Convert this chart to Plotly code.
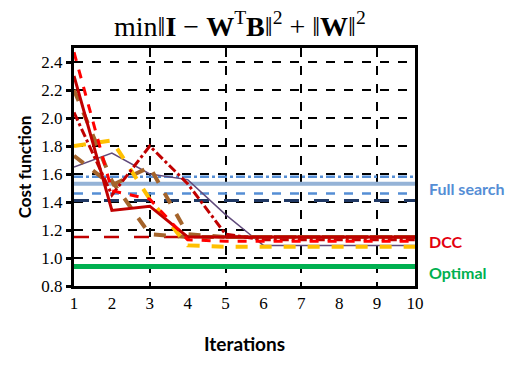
import plotly.graph_objects as go

# iteration index
iterations = list(range(1, 11))

# cost per iteration for each run
red_dash = [2.47, 1.48, 1.42, 1.13, 1.12, 1.12, 1.12, 1.12, 1.12, 1.12]
darkred_solid = [2.30, 1.34, 1.37, 1.15, 1.15, 1.15, 1.15, 1.15, 1.15, 1.15]
darkred_dashdot = [2.04, 1.45, 1.80, 1.53, 1.17, 1.13, 1.13, 1.13, 1.13, 1.13]
brown_a = [2.20, 1.55, 1.17, 1.15, 1.15, 1.15, 1.15, 1.15, 1.15, 1.15]
brown_b = [1.73, 1.52, 1.65, 1.17, 1.15, 1.15, 1.15, 1.15, 1.15, 1.15]
orange = [1.80, 1.84, 1.42, 1.09, 1.08, 1.08, 1.08, 1.08, 1.08, 1.08]
purple = [1.65, 1.75, 1.60, 1.56, 1.31, 1.09, 1.09, 1.09, 1.09, 1.09]

# reference levels
full_search_dashdot = 1.58
full_search_solid = 1.53
full_search_dash = 1.46
full_search_longdash = 1.41
dcc_level = 1.15
optimal_level = 0.94

x_ends = [1, 10]

fig = go.Figure()

def add_level(y, color, width, dash):
    fig.add_trace(go.Scatter(x=x_ends, y=[y, y], mode="lines",
                             line=dict(color=color, width=width, dash=dash),
                             showlegend=False, hoverinfo="skip"))

add_level(full_search_solid, "#95b3d7", 4, "solid")
add_level(full_search_dashdot, "#558ed5", 2.5, "dashdot")
add_level(full_search_dash, "#558ed5", 2.5, "dash")
add_level(full_search_longdash, "#1f3864", 3, "longdash")
add_level(dcc_level, "#c00000", 2.5, "longdash")

runs = [
    (purple, "#604a7b", 1.5, "solid"),
    (brown_a, "#a5642b", 4, "dash"),
    (brown_b, "#a5642b", 4, "dash"),
    (orange, "#ffc000", 4, "dash"),
    (darkred_dashdot, "#c00000", 3, "dashdot"),
    (darkred_solid, "#c00000", 3, "solid"),
    (red_dash, "#ff0000", 3, "dash"),
]
for ys, color, width, dash in runs:
    fig.add_trace(go.Scatter(x=iterations, y=ys, mode="lines",
                             line=dict(color=color, width=width, dash=dash),
                             showlegend=False))

add_level(optimal_level, "#00b050", 5, "solid")

serif = "Liberation Serif, Times New Roman, serif"
sans = "Lato, Open Sans, sans-serif"

# page body adds 8px, so the figure is 8px smaller than the window
fig.update_layout(
    width=518, height=378,
    margin=dict(l=66, r=111, t=40, b=100, autoexpand=False),
    paper_bgcolor="white", plot_bgcolor="white",
    xaxis=dict(
        range=[1, 10], tickvals=iterations, showgrid=False, automargin=False,
        showline=True, linecolor="black", linewidth=3, mirror=True,
        tickfont=dict(family=serif, size=17, color="black"),
        title=dict(text="<b>Iterations</b>", font=dict(family=sans, size=19, color="black"), standoff=26),
        zeroline=False,
    ),
    xaxis2=dict(
        range=[1, 10], overlaying="x", tick0=1, dtick=2, showticklabels=False,
        showgrid=True, gridcolor="black", griddash="dash", gridwidth=1.5,
        showline=False, zeroline=False, automargin=False,
    ),
    yaxis=dict(
        range=[0.8, 2.5], tick0=0.8, dtick=0.2, tickformat=".1f", automargin=False,
        showgrid=True, gridcolor="black", griddash="dash", gridwidth=1.5,
        showline=True, linecolor="black", linewidth=3, mirror=True,
        ticks="outside", ticklen=5, tickwidth=3, tickcolor="black",
        tickfont=dict(family=serif, size=17, color="black"),
        title=dict(text="<b>Cost function</b>", font=dict(family=sans, size=17, color="black"), standoff=6),
        zeroline=False,
    ),
)

# invisible trace to activate the grid-only overlay axis
fig.add_trace(go.Scatter(x=x_ends, y=[None, None], xaxis="x2", showlegend=False, hoverinfo="skip"))

# formula heading
fig.add_annotation(
    x=0.487, xref="paper", y=1.10, yref="paper", showarrow=False,
    xanchor="center", yanchor="middle",
    text="min‖<b>I</b> − <b>W</b><sup>T</sup><b>B</b>‖<sup>2</sup> + ‖<b>W</b>‖<sup>2</sup>",
    font=dict(family=serif, size=28, color="black"),
)

labels = [
    ("Full search", 1.50, "#558ed5"),
    ("DCC", 1.12, "#e3000f"),
    ("Optimal", 0.90, "#00b050"),
]
for text, y, color in labels:
    fig.add_annotation(x=1.035, xref="paper", y=y, yref="y", text=f"<b>{text}</b>",
                       showarrow=False, xanchor="left", yanchor="middle",
                       font=dict(family=sans, size=16, color=color))

fig.write_html("out.html")
